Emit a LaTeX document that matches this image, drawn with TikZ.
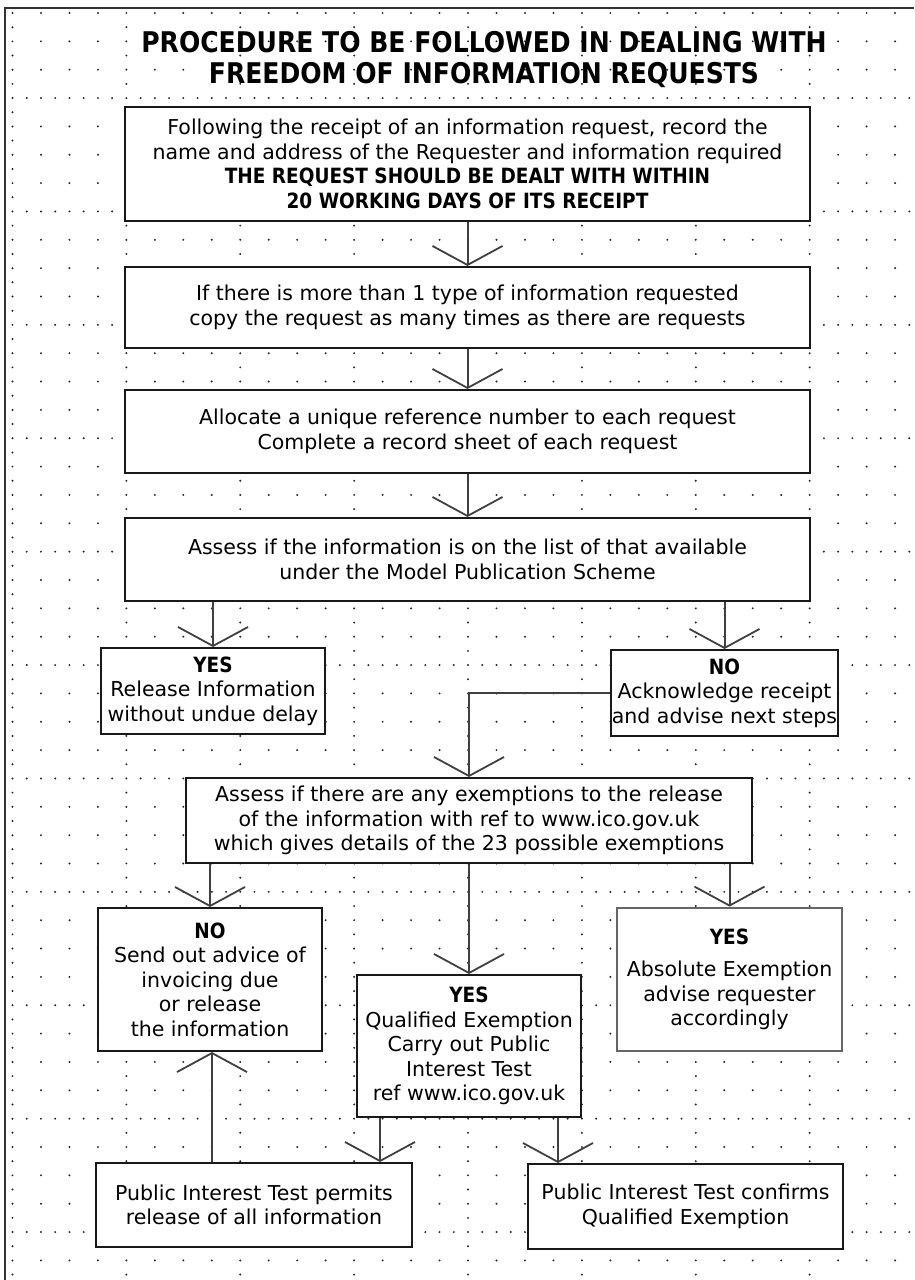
\documentclass[tikz,border=0pt]{standalone}
\usepackage{fontspec}
\setmainfont{DejaVu Sans}
\newfontfamily\condfont[FakeStretch=0.88]{DejaVu Sans}
\usetikzlibrary{arrows.meta}
\definecolor{dotc}{gray}{0.15}
\newcommand{\hb}[1]{{\condfont\bfseries\fontsize{21}{24.5}\selectfont #1}}
\tikzset{
  box/.style={draw=black!90, line width=2pt, fill=white, inner sep=0pt, align=center,
    font=\fontsize{20.5}{24.5}\selectfont},
  absbox/.style={box, draw=black!60, line width=2.8pt},
  arr/.style={draw=black!75, line width=2pt,
    -{Straight Barb[length=19pt,width=70pt,line width=1.8pt]}},
}
\begin{document}
\begin{tikzpicture}[x=1pt,y=-1pt]
\useasboundingbox (0,0) rectangle (914,1280);
% dotted grid
\foreach \i in {0,...,31}{\foreach \j in {0,...,45}{
  \fill[dotc] ({12.5+28.47*\i},{13+28.35*\j}) circle[radius=1.1pt];}}
\foreach \k in {0,...,7}{\foreach \j in {0,...,44}{
  \fill[dotc] ({12.5+113.88*\k},{27.17+28.35*\j}) circle[radius=1.1pt];}}
\foreach \r in {0,...,10}{\foreach \i in {0,...,31}{
  \fill[dotc] ({26.73+28.47*\i},{98.05+113.4*\r}) circle[radius=1.1pt];}}
% frame
\draw[line width=2pt, black!80] (5,1280) -- (5,8) -- (914,8);
% title
\node[font=\condfont\bfseries\fontsize{28.5}{31}\selectfont, align=center] (title) at (484,60)
  {PROCEDURE TO BE FOLLOWED IN DEALING WITH\\FREEDOM OF INFORMATION REQUESTS};
% boxes
\node[box, minimum width=685pt, minimum height=114pt] (b1) at (467.5,164)
  {Following the receipt of an information request, record the\\
   name and address of the Requester and information required\\
   \hb{THE REQUEST SHOULD BE DEALT WITH WITHIN}\\
   \hb{20 WORKING DAYS OF ITS RECEIPT}};
\node[box, minimum width=685pt, minimum height=81pt] (b2) at (467.5,307.5)
  {If there is more than 1 type of information requested\\
   copy the request as many times as there are requests};
\node[box, minimum width=685pt, minimum height=83pt] (b3) at (467.5,431.5)
  {Allocate a unique reference number to each request\\
   Complete a record sheet of each request};
\node[box, minimum width=685pt, minimum height=83pt] (b4) at (467.5,559.5)
  {Assess if the information is on the list of that available\\
   under the Model Publication Scheme};
\node[box, minimum width=224pt, minimum height=86pt] (yes1) at (213,691)
  {\hb{YES}\\Release Information\\without undue delay};
\node[box, minimum width=227pt, minimum height=86pt] (no1) at (724.5,693)
  {\hb{NO}\\Acknowledge receipt\\and advise next steps};
\node[box, minimum width=566pt, minimum height=85pt] (ex) at (469,820.5)
  {Assess if there are any exemptions to the release\\
   of the information with ref to www.ico.gov.uk\\
   which gives details of the 23 possible exemptions};
\node[box, minimum width=224pt, minimum height=143pt] (no2) at (210,979.5)
  {\hb{NO}\\Send out advice of\\invoicing due\\or release\\the information};
\node[box, minimum width=224pt, minimum height=142pt] (qual) at (469,1046)
  {\hb{YES}\\Qualified Exemption\\Carry out Public\\Interest Test\\ref www.ico.gov.uk};
\node[absbox, minimum width=225pt, minimum height=143pt] (abs) at (729.5,979.5)
  {\hb{YES}\\[8pt]Absolute Exemption\\advise requester\\accordingly};
\node[box, minimum width=316pt, minimum height=84pt] (pl) at (254,1205)
  {Public Interest Test permits\\release of all information};
\node[box, minimum width=315pt, minimum height=85pt] (pr) at (685.5,1206.5)
  {Public Interest Test confirms\\Qualified Exemption};
% helper x positions
\coordinate (xa) at (380,0);
\coordinate (xb) at (558,0);
\coordinate (xc) at (212,0);
% connectors
\draw[arr] (b1.south) -- (b2.north);
\draw[arr] (b2.south) -- (b3.north);
\draw[arr] (b3.south) -- (b4.north);
\draw[arr] (b4.south -| yes1.north) -- (yes1.north);
\draw[arr] (b4.south -| no1.north) -- (no1.north);
\draw[arr] (no1.west) -| (ex.north);
\draw[arr] (ex.south -| no2.north) -- (no2.north);
\draw[arr] (ex.south) -- (qual.north);
\draw[arr] (ex.south -| abs.north) -- (abs.north);
\draw[arr] (qual.south -| xa) -- (pl.north -| xa);
\draw[arr] (qual.south -| xb) -- (pr.north -| xb);
\draw[arr] (pl.north -| xc) -- (no2.south -| xc);
\end{tikzpicture}
\end{document}
